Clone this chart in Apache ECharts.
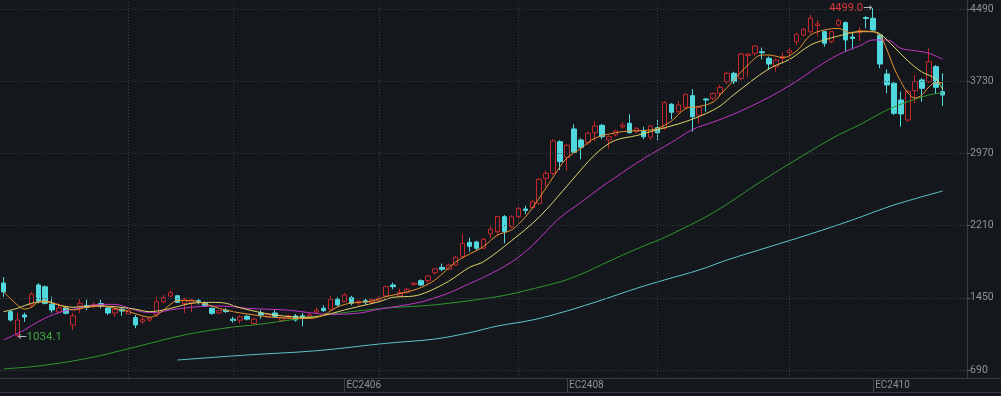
<!DOCTYPE html>
<html><head><meta charset="utf-8">
<script src="https://cdn.jsdelivr.net/npm/echarts@6/dist/echarts.min.js"></script>
<style>html,body{margin:0;padding:0;background:#14171c;}#c{width:1001px;height:396px;}</style>
</head><body><div id="c"></div>
<script>
// ---- data ----
const slotCount = 139; // 136 trading days + 3 empty slots on the right
const categories = [];
for (let i = 0; i < slotCount; i++) categories.push('D' + i);
const labelIndex = [49, 81, 125];
const labelText = ['EC2406', 'EC2408', 'EC2410'];
const monthLineIndex = [18, 33, 54, 74, 94, 113];
const yTicks = [690, 1450, 2210, 2970, 3730, 4490];

const open = [1606,1304,1059,1269,1374,1585,1566,1382,1301,1343,1164,1364,1370,1360,1390,1343,1290,1330,1280,1241,1200,1215,1269,1409,1469,1472,1390,1395,1420,1390,1339,1290,1320,1225,1215,1255,1180,1290,1250,1290,1210,1245,1259,1260,1255,1300,1340,1329,1434,1409,1451,1395,1420,1400,1425,1469,1585,1470,1510,1590,1630,1630,1715,1770,1750,1795,1883,2034,2038,1972,2122,2146,2304,2199,2304,2385,2400,2445,2708,2760,3093,2929,3227,3111,3083,3188,3266,3111,3164,3250,3287,3199,3209,3140,3241,3234,3487,3409,3455,3578,3374,3543,3550,3603,3725,3813,3760,4000,4024,4040,3971,3883,3970,4030,4146,4216,4251,4315,4251,4146,4322,4346,4195,4240,4400,4392,4216,3806,3708,3532,3322,3630,3743,3725,3883,3620];
const close = [1511,1216,1216,1248,1490,1414,1392,1322,1343,1287,1259,1392,1350,1380,1370,1290,1325,1310,1315,1164,1220,1235,1409,1451,1504,1402,1430,1425,1405,1365,1287,1315,1305,1210,1250,1225,1225,1270,1275,1255,1240,1260,1216,1245,1270,1320,1315,1434,1374,1480,1392,1415,1405,1430,1445,1567,1567,1505,1540,1605,1585,1680,1755,1750,1795,1876,2024,1992,1972,2066,2171,2304,2146,2304,2392,2370,2460,2697,2760,3101,2883,3055,2982,3034,3182,3259,3146,3146,3206,3269,3188,3234,3146,3259,3188,3504,3403,3480,3592,3356,3455,3532,3600,3666,3813,3725,4016,4016,4100,4030,3911,3953,3988,4051,4224,4276,4392,4332,4129,4251,4367,4164,4180,4260,4390,4269,3911,3690,3392,3385,3620,3725,3655,3935,3666,3585];
const low = [1460,1200,1034.1,1196,1343,1392,1380,1293,1287,1275,1111,1290,1320,1340,1340,1270,1250,1260,1270,1130,1175,1200,1248,1395,1455,1395,1290,1300,1380,1355,1270,1280,1290,1190,1180,1210,1170,1230,1240,1245,1200,1235,1200,1150,1245,1290,1300,1320,1360,1400,1370,1355,1380,1385,1410,1455,1540,1455,1500,1580,1575,1600,1690,1730,1740,1790,1870,1935,1950,1960,2076,2100,2024,2180,2290,2330,2390,2430,2620,2740,2795,2788,2970,2908,3060,3100,3120,3020,3150,3230,3180,3180,3120,3110,3111,3220,3329,3390,3440,3199,3287,3409,3530,3570,3700,3700,3740,3777,4000,3960,3848,3830,3920,3960,4110,4200,4230,4199,4093,4130,4300,4041,4066,4150,4287,4251,3866,3603,3374,3251,3300,3497,3514,3715,3595,3469];
const high = [1669,1320,1293,1293,1514,1603,1580,1462,1392,1360,1290,1434,1430,1400,1430,1360,1345,1345,1340,1269,1250,1250,1462,1480,1530,1480,1450,1440,1445,1410,1350,1320,1340,1250,1265,1270,1240,1320,1290,1320,1250,1270,1280,1290,1290,1345,1370,1469,1455,1500,1470,1420,1440,1440,1460,1580,1610,1545,1550,1615,1645,1690,1760,1810,1810,1890,2122,2083,2050,2080,2201,2315,2320,2320,2400,2420,2480,2710,2790,3120,3110,3070,3276,3130,3200,3311,3280,3160,3220,3300,3382,3250,3250,3270,3329,3520,3500,3520,3600,3645,3470,3550,3610,3690,3830,3830,4030,4025,4110,4085,3990,3970,4030,4090,4240,4290,4427,4374,4260,4260,4390,4360,4251,4300,4415,4499,4230,3855,3720,3620,3640,3795,3760,4076,3900,3813];

// moving averages: [day index, value]
const ma5 = [[0,1514],[2,1374],[3,1332],[4,1350],[5,1406],[6,1416],[8,1374],[10,1322],[12,1350],[14,1364],[16,1339],[18,1304],[20,1259],[21,1245],[22,1269],[23,1322],[24,1381],[25,1420],[27,1420],[29,1385],[31,1339],[33,1304],[35,1280],[39,1243],[44,1232],[46,1269],[48,1353],[50,1395],[53,1416],[55,1463],[58,1511],[60,1558],[62,1637],[65,1827],[67,1911],[69,1990],[71,2110],[73,2164],[75,2300],[77,2500],[80,2830],[81,2922],[83,3024],[85,3130],[88,3188],[90,3206],[92,3210],[94,3234],[96,3310],[98,3440],[100,3464],[102,3510],[103,3585],[105,3743],[107,3901],[109,4006],[110,4006],[112,3980],[114,4048],[116,4216],[118,4269],[120,4285],[121,4258],[122,4237],[123,4258],[125,4251],[126,4206],[127,4058],[128,3869],[129,3722],[130,3606],[131,3553],[132,3585],[133,3669],[134,3714],[135,3714]];
const ma10 = [[0,1304],[2,1339],[4,1392],[6,1409],[8,1374],[10,1350],[13,1364],[16,1357],[19,1329],[21,1304],[23,1322],[25,1357],[27,1392],[30,1402],[32,1392],[34,1345],[39,1269],[44,1245],[46,1264],[49,1322],[51,1357],[54,1409],[56,1455],[59,1469],[61,1514],[64,1625],[67,1771],[69,1830],[73,2050],[77,2300],[81,2627],[84,2880],[86,3020],[88,3110],[91,3158],[94,3220],[97,3280],[99,3330],[101,3390],[103,3469],[105,3590],[110,3860],[113,3960],[116,4111],[118,4164],[120,4206],[123,4251],[125,4251],[126,4227],[128,4090],[130,3943],[132,3827],[134,3753],[135,3637]];
const ma20 = [[0,1006],[3,1110],[5,1200],[8,1295],[11,1343],[14,1381],[16,1381],[18,1343],[20,1301],[22,1295],[24,1322],[27,1350],[30,1364],[33,1357],[35,1339],[38,1330],[41,1320],[44,1293],[47,1276],[51,1288],[54,1330],[57,1365],[60,1405],[62,1450],[64,1500],[67,1600],[69,1665],[73,1825],[76,2000],[78,2150],[80,2295],[83,2455],[86,2620],[88,2720],[92,2915],[96,3085],[99,3220],[102,3300],[105,3385],[110,3560],[114,3730],[117,3880],[120,4010],[123,4100],[125,4164],[127,4164],[129,4076],[131,4051],[133,4024],[135,3961]];
const ma60 = [[0,702],[5,732],[12,812],[19,933],[26,1059],[33,1143],[36,1164],[43,1235],[50,1304],[56,1348],[60,1364],[64,1392],[68,1430],[72,1475],[75,1525],[78,1580],[81,1640],[84,1730],[86,1800],[89,1900],[92,1995],[95,2085],[102,2345],[109,2680],[117,3040],[120,3164],[123,3269],[127,3427],[130,3514],[133,3585],[135,3609]];
const ma120 = [[25,795],[35,848],[45,893],[55,971],[62,1016],[67,1083],[71,1153],[76,1216],[81,1312],[86,1427],[91,1550],[95,1638],[100,1743],[104,1848],[110,1985],[116,2122],[122,2269],[128,2427],[135,2574]];

// ---- build ----
const candles = open.map((o, i) => [o, close[i], low[i], high[i]]);
const maxHigh = Math.max(...high), maxIdx = high.indexOf(maxHigh);
const minLow = Math.min(...low), minIdx = low.indexOf(minLow);

const axisCol = '#363a42', gridCol = '#3a3f48', txtCol = '#8e929a';
const chart = echarts.init(document.getElementById('c'), null, {renderer: 'canvas'});
function maLine(name, data, color) {
  return {name, type: 'line', data, smooth: 0.35, showSymbol: false, symbol: 'none',
    lineStyle: {width: 1, color}, itemStyle: {color}, silent: true, animation: false, clip: false};
}
chart.setOption({
  backgroundColor: '#14171c',
  animation: false,
  grid: {left: -1.9, right: 33.9, top: 0, bottom: 18, containLabel: false},
  xAxis: {
    type: 'category', data: categories, boundaryGap: true,
    axisLine: {show: true, lineStyle: {color: axisCol}},
    axisTick: {show: true, alignWithLabel: true, length: 14, interval: (i) => labelIndex.includes(i), lineStyle: {color: '#3e424a'}},
    axisLabel: {interval: (i) => labelIndex.includes(i), formatter: (v, i) => labelText[labelIndex.indexOf(i)] || '',
      align: 'left', color: txtCol, fontSize: 10, fontFamily: 'Roboto', margin: 2, padding: [0, 0, 0, 2]},
    splitLine: {show: false}
  },
  yAxis: {
    type: 'value', position: 'right', min: 605.8, max: 4584.7, scale: true,
    axisLine: {show: true, lineStyle: {color: axisCol}},
    axisTick: {show: true, length: 3, customValues: yTicks, lineStyle: {color: '#5a5e66'}},
    axisLabel: {customValues: yTicks, formatter: (v) => String(Math.round(v)), color: txtCol, fontSize: 10.5, fontFamily: 'Roboto', margin: 3},
    splitLine: {show: false}
  },
  graphic: [
    {type: 'line', shape: {x1: 0, y1: 378.5, x2: 1001, y2: 378.5}, style: {stroke: axisCol, lineWidth: 1}, silent: true},
    {type: 'line', shape: {x1: 0, y1: 392.5, x2: 1001, y2: 392.5}, style: {stroke: axisCol, lineWidth: 1}, silent: true}
  ],
  series: [
    {name: 'grid', type: 'line', data: [], silent: true, z: 0,
      markLine: {silent: true, symbol: ['none', 'none'], animation: false, label: {show: false},
        lineStyle: {color: gridCol, type: [1, 2], width: 1},
        data: yTicks.map(v => ({yAxis: v})).concat(monthLineIndex.map(i => ({xAxis: i})))}},
    {name: 'K', type: 'candlestick', data: candles, barWidth: 5, clip: false,
      itemStyle: {color: 'transparent', color0: '#50d8de', borderColor: '#c4282d', borderColor0: '#50d8de', borderWidth: 1},
      markPoint: {symbol: 'circle', symbolSize: 0, silent: true, animation: false,
        data: [
          {coord: [maxIdx, maxHigh], label: {show: true, position: 'left', distance: 1,
            formatter: '{t|' + maxHigh.toFixed(1) + '}{a|→}',
            rich: {t: {color: '#d8383c', fontSize: 11, fontFamily: 'Roboto'}, a: {color: '#b8bcc2', fontSize: 11, fontFamily: 'DejaVu Sans'}}}},
          {coord: [minIdx, minLow], label: {show: true, position: 'right', distance: 0,
            formatter: '{a|←}{t|' + minLow.toFixed(1) + '}',
            rich: {t: {color: '#3aa83d', fontSize: 11.5, fontFamily: 'Roboto'}, a: {color: '#b8bcc2', fontSize: 11, fontFamily: 'DejaVu Sans'}}}}
        ]}},
    maLine('MA120', ma120, '#5ac6cc'),
    maLine('MA60', ma60, '#2f962f'),
    maLine('MA20', ma20, '#c435c8'),
    maLine('MA10', ma10, '#e2d46a'),
    maLine('MA5', ma5, '#e8902e')
  ]
});
</script></body></html>
